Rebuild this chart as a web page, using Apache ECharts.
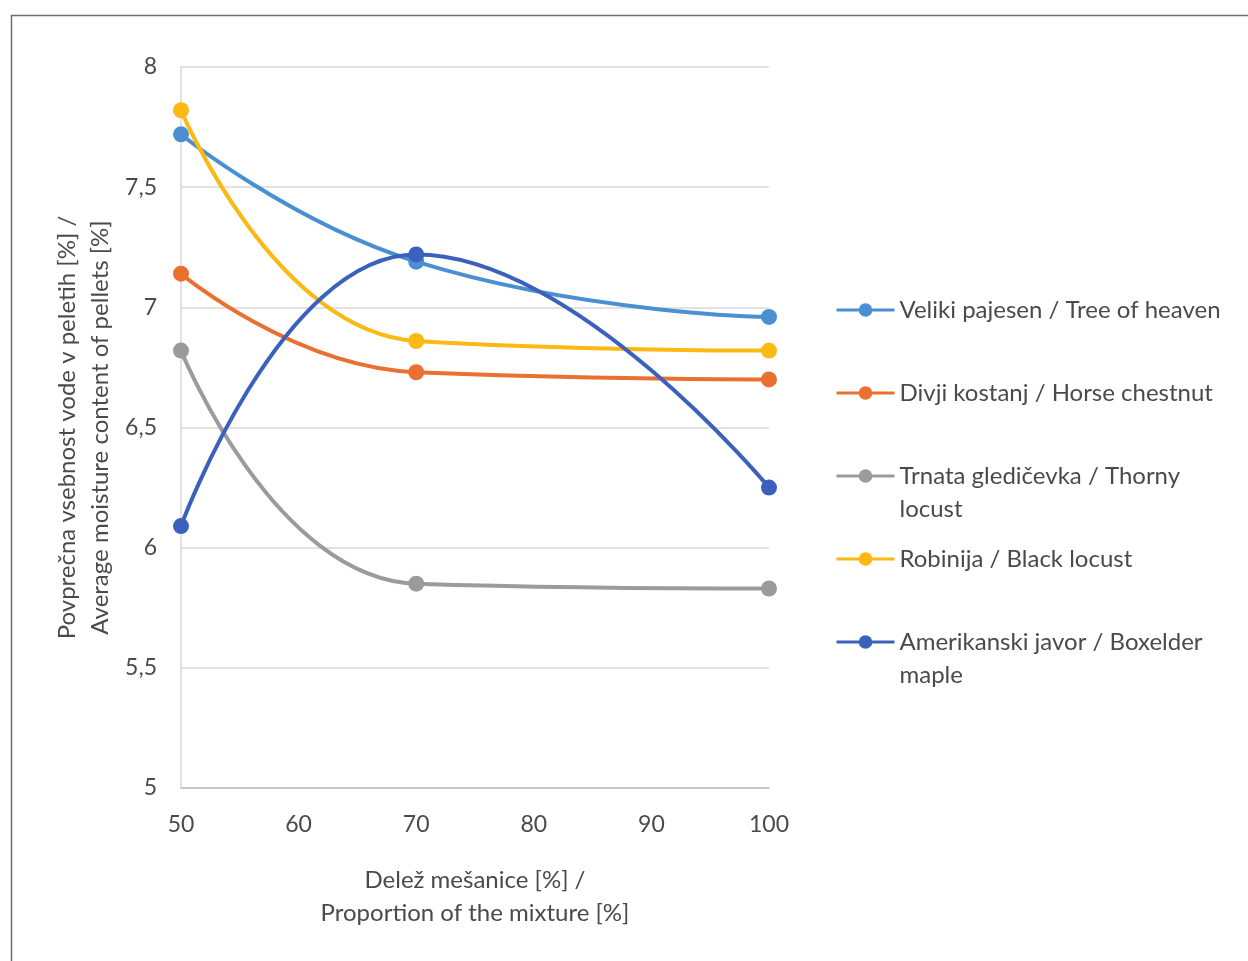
<!DOCTYPE html>
<html>
<head>
<meta charset="utf-8">
<script src="https://cdn.jsdelivr.net/npm/echarts@6/dist/echarts.min.js"></script>
<style>
  html, body { margin: 0; padding: 0; background: #fff; }
  #chart { width: 1248px; height: 961px; }
</style>
</head>
<body>
<div id="chart"></div>
<script>
// ---- data ----
const xValues = [50, 70, 100];
const seriesNames = [
  'Veliki pajesen / Tree of heaven',
  'Divji kostanj / Horse chestnut',
  'Trnata gledičevka / Thorny\nlocust',
  'Robinija / Black locust',
  'Amerikanski javor / Boxelder\nmaple'
];
const velikiPajesen = [7.72, 7.19, 6.96];
const divjiKostanj = [7.14, 6.73, 6.70];
const trnataGledicevka = [6.82, 5.85, 5.83];
const robinija = [7.82, 6.86, 6.82];
const amerikanskiJavor = [6.09, 7.22, 6.25];
const xTicks = [50, 60, 70, 80, 90, 100];
const yTicks = [5, 5.5, 6, 6.5, 7, 7.5, 8];
const xAxisTitle = 'Delež mešanice [%] /\nProportion of the mixture [%]';
const yAxisTitle = 'Povprečna vsebnost vode v peletih [%] /\nAverage moisture content of pellets [%]';

const seriesValues = [velikiPajesen, divjiKostanj, trnataGledicevka, robinija, amerikanskiJavor];
const colors = ['#4a8fd1', '#e9702f', '#9b9b9b', '#fcb813', '#3a61bb'];
const legendCenters = [310, 393, 476, 559, 642];

const FONT = 'Lato';
const TXT = '#4a4a4a';

const chart = echarts.init(document.getElementById('chart'), null, { renderer: 'canvas' });

const legends = seriesNames.map((name, i) => {
  const twoLine = name.indexOf('\n') >= 0;
  const boxH = twoLine ? 99 : 33;
  return {
    data: [name],
    left: 835,
    top: legendCenters[i] - boxH / 2,
    padding: 0,
    itemWidth: 58,
    itemHeight: 17,
    selectedMode: false,
    lineStyle: { width: 3 },
    formatter: n => (twoLine ? '\n' + n : n),
    textStyle: {
      fontFamily: FONT,
      fontSize: 24,
      color: TXT,
      lineHeight: 33
    }
  };
});

const series = seriesNames.map((name, i) => ({
  name: name,
  type: 'line',
  smooth: 0.5,
  symbol: 'circle',
  symbolSize: 16,
  showSymbol: true,
  data: xValues.map((x, j) => [x, seriesValues[i][j]]),
  lineStyle: { width: 4, color: colors[i] },
  itemStyle: { color: colors[i] },
  emphasis: { disabled: true },
  z: 2 + i
}));

const option = {
  animation: false,
  backgroundColor: '#fff',
  color: colors,
  graphic: [{
    type: 'rect',
    shape: { x: 11.5, y: 15.5, width: 1400, height: 1100 },
    style: { fill: 'none', stroke: '#6e6e6e', lineWidth: 1.5 },
    silent: true,
    z: -1
  }],
  legend: legends,
  grid: { left: 181, top: 67, right: 479, bottom: 173 },
  xAxis: {
    type: 'value',
    min: xTicks[0],
    max: xTicks[xTicks.length - 1],
    interval: 10,
    name: xAxisTitle,
    nameLocation: 'middle',
    nameGap: 76,
    nameTextStyle: { fontFamily: FONT, fontSize: 24, color: TXT, lineHeight: 33 },
    axisLine: { show: true, lineStyle: { color: '#bfbfbf', width: 1.5 } },
    axisTick: { show: false },
    splitLine: { show: false },
    axisLabel: {
      fontFamily: FONT, fontSize: 23, color: TXT, margin: 25,
      formatter: v => String(v)
    }
  },
  yAxis: {
    type: 'value',
    min: yTicks[0],
    max: yTicks[yTicks.length - 1],
    interval: 0.5,
    name: yAxisTitle,
    nameLocation: 'middle',
    nameGap: 64,
    nameRotate: 90,
    nameTextStyle: { fontFamily: FONT, fontSize: 24, color: TXT, lineHeight: 33 },
    axisLine: { show: true, lineStyle: { color: '#d9d9d9', width: 1.5 } },
    axisTick: { show: false },
    splitLine: { show: true, lineStyle: { color: '#d9d9d9', width: 1.5 } },
    axisLabel: {
      fontFamily: FONT, fontSize: 23, color: TXT, margin: 24,
      formatter: v => String(v).replace('.', ',')
    }
  },
  series: series
};

chart.setOption(option);
</script>
</body>
</html>
